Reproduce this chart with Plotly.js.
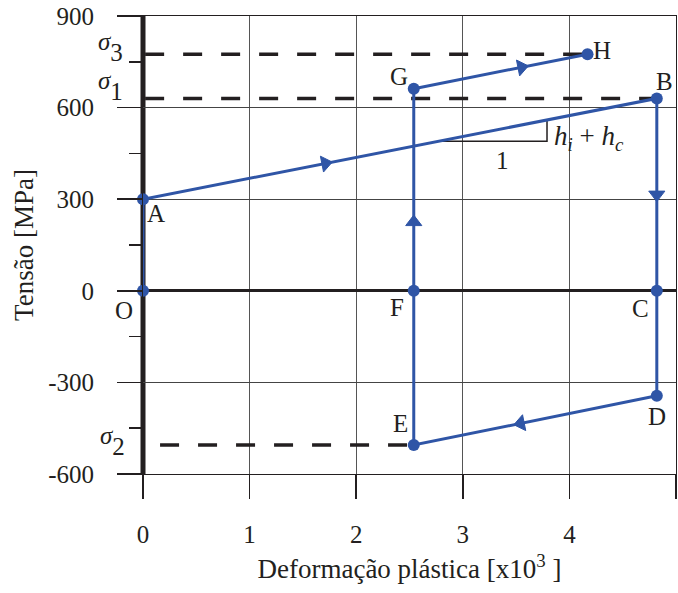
<!DOCTYPE html>
<html>
<head>
<meta charset="utf-8">
<script src="https://cdn.plot.ly/plotly-3.0.1.min.js"></script>
<style>html,body{margin:0;padding:0;background:#fff;}#chart{width:678px;height:593px;}</style>
</head>
<body>
<div id="chart"></div>
<script>
// ---- data ----
const pointLabels = ['O', 'A', 'B', 'C', 'D', 'E', 'F', 'G', 'H'];
const strain = [0, 0, 4.82, 4.82, 4.82, 2.54, 2.54, 2.54, 4.17];
const stress = [0, 300, 630, 0, -344, -505, 0, 662, 775];
// direction arrows: [from point index, to point index]
const arrowSegments = [[1, 2], [7, 8], [2, 3], [6, 7], [4, 5]];
const arrowAt = [0.355, 0.62, 0.5, 0.34, 0.56]; // fraction along segment
// reference stress levels (dashed)
const sigmaNames = ['σ', 'σ', 'σ'];
const sigmaSub = ['1', '3', '2'];
const sigmaPoint = [2, 8, 5];   // point each level refers to
const sigmaStart = [0.02, 0.02, 0.16];
// slope triangle on segment A-B
const triStrain = [2.77, 3.79];
const xTicks = [0, 1, 2, 3, 4, 5];
const yTicks = [-600, -300, 0, 300, 600, 900];

const blue = '#2f55a6';
const ink = '#231f20';
const FONT = 'Liberation Serif, Times New Roman, serif';

const traces = [];
// dashed sigma lines
for (let i = 0; i < sigmaPoint.length; i++) {
  const p = sigmaPoint[i];
  traces.push({
    x: [sigmaStart[i], strain[p]], y: [stress[p], stress[p]],
    mode: 'lines', line: {color: ink, width: 3.5, dash: '19px,19px'},
    hoverinfo: 'skip', showlegend: false
  });
}
// slope triangle
const A = 1, B = 2;
function onAB(x) { return stress[A] + (stress[B] - stress[A]) * (x - strain[A]) / (strain[B] - strain[A]); }
const triY0 = onAB(triStrain[0]);
const triY1 = onAB(triStrain[1]);
traces.push({
  x: [triStrain[0], triStrain[1], triStrain[1]], y: [triY0, triY0, triY1],
  mode: 'lines', line: {color: ink, width: 1.5}, hoverinfo: 'skip', showlegend: false
});
// main path
traces.push({
  x: strain, y: stress, mode: 'lines+markers', cliponaxis: false,
  line: {color: blue, width: 3}, marker: {color: blue, size: 12, opacity: 1},
  showlegend: false
});
// arrows
arrowSegments.forEach((s, k) => {
  const f = arrowAt[k];
  const x0 = strain[s[0]], y0 = stress[s[0]], x1 = strain[s[1]], y1 = stress[s[1]];
  traces.push({
    x: [x0, x0 + f * (x1 - x0)], y: [y0, y0 + f * (y1 - y0)],
    mode: 'markers',
    marker: {symbol: 'triangle-up', size: [0, 14], color: blue, opacity: 1, angleref: 'previous', line: {width: 1, color: blue}},
    hoverinfo: 'skip', showlegend: false
  });
});

const labelShift = {
  O: [-19, -20], A: [13, -14], B: [8, 17], C: [-16, -18], D: [0, -21],
  E: [-13, 21], F: [-17, -17], G: [-15, 12], H: [14, 4]
};
const annotations = pointLabels.map((t, i) => ({
  x: strain[i], y: stress[i], text: t, showarrow: false,
  xshift: labelShift[t][0], yshift: labelShift[t][1],
  font: {family: FONT, size: 25, color: ink}
}));
const sigmaShift = [[-33, 12], [-33, 7], [-31, 4]];
sigmaPoint.forEach((p, i) => {
  annotations.push({
    x: 0, y: stress[p],
    text: '<sup><span style="font-size:25px"><i>' + sigmaNames[i] + '</i></span></sup>' + sigmaSub[i],
    showarrow: false, xshift: sigmaShift[i][0], yshift: sigmaShift[i][1],
    font: {family: FONT, size: 25, color: ink}
  });
});
annotations.push({
  x: (triStrain[0] + triStrain[1]) / 2, y: triY0, text: '1', showarrow: false,
  xshift: 10, yshift: -19, font: {family: FONT, size: 25, color: ink}
});
annotations.push({
  x: triStrain[1], y: triY0, text: '<i>h<sub>i</sub></i> + <i>h<sub>c</sub></i>', showarrow: false,
  xanchor: 'left', xshift: 5, yshift: 3, font: {family: FONT, size: 27, color: ink}
});

const layout = {
  width: 678, height: 593,
  margin: {l: 143, r: 2, t: 16, b: 119},
  paper_bgcolor: '#fff', plot_bgcolor: '#fff',
  font: {family: FONT, size: 25, color: ink},
  showlegend: false,
  xaxis: {
    range: [0, 5], tickvals: xTicks, ticktext: xTicks.map(String),
    showgrid: true, gridcolor: '#555', gridwidth: 1,
    zeroline: false,
    showline: true, mirror: true, linecolor: ink, linewidth: 1,
    ticks: 'outside', ticklen: 24, tickwidth: 1.5, tickcolor: ink,
    ticklabelstandoff: 14,
    title: {text: 'Deformação plástica [x10<sup>3</sup> ]', font: {family: FONT, size: 27, color: ink}, standoff: 12},
    fixedrange: true
  },
  yaxis: {
    range: [-600, 900], tickvals: yTicks, ticktext: yTicks.map(String),
    showgrid: true, gridcolor: '#444', gridwidth: 1,
    zeroline: true, zerolinecolor: ink, zerolinewidth: 3,
    showline: true, mirror: true, linecolor: ink, linewidth: 1,
    ticks: 'outside', ticklen: 25, tickwidth: 1.5, tickcolor: ink,
    ticklabelstandoff: 18,
    minor: {dtick: 150, ticks: 'outside', ticklen: 13, tickwidth: 1.5, tickcolor: ink, showgrid: false},
    title: {text: 'Tensão [MPa]', font: {family: FONT, size: 27, color: ink}, standoff: 6},
    fixedrange: true
  },
  shapes: [{
    type: 'line', xref: 'paper', yref: 'paper', x0: 0, x1: 0, y0: 0, y1: 1,
    line: {color: ink, width: 5}, layer: 'below'
  }],
  annotations: annotations
};

Plotly.newPlot('chart', traces, layout, {staticPlot: true, displayModeBar: false});
</script>
</body>
</html>
